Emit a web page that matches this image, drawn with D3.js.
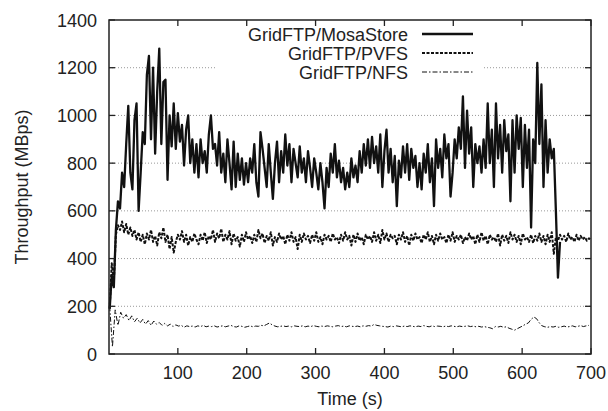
<!DOCTYPE html>
<html>
<head>
<meta charset="utf-8">
<script src="https://cdn.jsdelivr.net/npm/d3@7/dist/d3.min.js"></script>
<style>
    html, body { margin: 0; padding: 0; background: #fff; }
    svg { display: block; font-family: "Liberation Sans", Arial, sans-serif; }
</style>
</head>
<body>
<div id="chart"></div>
<script>
// values, one sample every `step` seconds from `start`
const mosaStart = 1, mosaStep = 3;
const mosaValues = [
    190, 330, 280, 520, 640, 610, 760, 700, 880, 1040,
    760, 690, 980, 1050, 600, 760, 930, 880, 1170, 1250,
    900, 1200, 840, 1100, 1280, 880, 1140, 1150, 730, 1000,
    870, 1050, 860, 1010, 890, 960, 790, 940, 1000, 800,
    900, 760, 880, 740, 900, 800, 850, 760, 920, 1000,
    860, 880, 790, 930, 760, 840, 720, 900, 800, 690,
    890, 700, 840, 730, 820, 710, 800, 720, 820, 760,
    880, 720, 660, 930, 860, 780, 700, 880, 760, 650,
    800, 890, 720, 850, 760, 920, 790, 880, 720, 860,
    800, 740, 870, 760, 820, 720, 850, 780, 700, 820,
    760, 690, 800, 720, 610, 780, 700, 840, 760, 880,
    740, 810, 720, 780, 690, 760, 700, 820, 740, 790,
    720, 850, 760, 880, 790, 900, 780, 910, 800, 870,
    760, 920, 700, 850, 940, 760, 860, 720, 830, 620,
    810, 740, 870, 760, 880, 730, 860, 780, 830, 700,
    800, 690, 840, 760, 880, 720, 820, 620, 900, 780,
    860, 740, 920, 820, 880, 660, 760, 900, 820, 950,
    860, 1080, 780, 1020, 840, 950, 700, 880, 800, 870,
    760, 900, 780, 1050, 800, 940, 700, 1050, 820, 960,
    760, 980, 850, 920, 640, 980, 760, 1000, 860, 990,
    700, 960, 780, 940, 530, 900, 800, 1220, 880, 1130,
    700, 980, 760, 900, 820, 860, 600, 320, 470
];

const pvfsStart = 1, pvfsStep = 3;
const pvfsValues = [
    190, 380, 300, 500, 540, 520, 555, 510, 545, 500,
    530, 495, 520, 480, 510, 470, 500, 460, 505, 480,
    520, 470, 495, 455, 510, 485, 530, 470, 500, 440,
    490, 425, 470, 500, 480, 515, 470, 500, 455, 490,
    470, 505, 480, 460, 500, 475, 510, 465, 495, 480,
    520, 470, 505, 485, 525, 470, 500, 480, 515, 460,
    505, 475, 490, 450, 500, 470, 510, 480, 495, 465,
    500, 470, 520, 485, 505, 465, 495, 475, 510, 455,
    490, 470, 505, 480, 495, 460, 500, 475, 510, 470,
    490, 440, 500, 470, 505, 480, 495, 465, 500, 475,
    510, 470, 490, 460, 500, 480, 495, 470, 505, 480,
    490, 465, 500, 475, 510, 480, 495, 455, 500, 470,
    505, 475, 490, 460, 500, 480, 495, 470, 510, 475,
    500, 465, 520, 480, 505, 470, 500, 485, 495, 460,
    500, 480, 510, 470, 495, 455, 500, 475, 505, 480,
    490, 465, 500, 480, 510, 470, 495, 460, 500, 475,
    505, 480, 490, 465, 500, 475, 510, 470, 495, 480,
    500, 465, 490, 475, 505, 480, 495, 460, 500, 470,
    510, 475, 495, 460, 500, 480, 490, 470, 505, 455,
    500, 475, 495, 465, 510, 480, 500, 470, 495, 460,
    505, 480, 490, 470, 500, 465, 495, 475, 505, 470,
    495, 460, 500, 470, 510, 420, 490, 475, 500, 480,
    495, 470, 505, 480, 490, 470, 500, 475, 495, 480,
    490, 475, 485, 480
];

const nfsStart = 1, nfsStep = 4;
const nfsValues = [
    200, 30, 185, 120, 175, 150, 165, 140, 160, 135,
    150, 130, 145, 125, 140, 120, 138, 125, 132, 120,
    128, 118, 125, 115, 122, 117, 120, 112, 118, 115,
    117, 113, 118, 115, 120, 114, 117, 115, 118, 113,
    116, 118, 114, 117, 120, 115, 113, 118, 116, 112,
    115, 118, 114, 117, 116, 120, 118, 124, 130, 122,
    117, 114, 116, 118, 115, 117, 114, 118, 116, 115,
    118, 114, 117, 115, 119, 116, 114, 117, 115, 118,
    116, 114, 117, 119, 115, 117, 114, 118, 116, 115,
    117, 114, 118, 116, 119, 117, 124, 120, 118, 116,
    115, 113, 117, 115, 118, 116, 114, 117, 115, 118,
    116, 114, 117, 115, 119, 116, 114, 118, 115, 117,
    116, 114, 117, 115, 118, 116, 114, 117, 115, 116,
    118, 115, 117, 114, 116, 113, 115, 112, 110, 106,
    115, 113, 116, 112, 114, 108, 104, 100, 106, 112,
    118, 125, 130, 145, 155, 148, 130, 118, 114, 112,
    115, 113, 116, 112, 114, 117, 113, 115, 118, 114,
    116, 119, 115, 118, 120
];

const seriesNames = ['GridFTP/MosaStore', 'GridFTP/PVFS', 'GridFTP/NFS'];
const xTicks = [100, 200, 300, 400, 500, 600, 700];
const yTicks = [0, 200, 400, 600, 800, 1000, 1200, 1400];
const gridTicks = [200, 400, 600, 800, 1000, 1200];

const toPoints = (start, step, values) =>
    values.map((v, i) => ({ t: start + i * step, v }));

const series = [
    { name: seriesNames[0], data: toPoints(mosaStart, mosaStep, mosaValues), width: 2.3, dash: null },
    { name: seriesNames[1], data: toPoints(pvfsStart, pvfsStep, pvfsValues), width: 2, dash: '3,1.5' },
    { name: seriesNames[2], data: toPoints(nfsStart, nfsStep, nfsValues), width: 1, dash: '5,2,1.5,2' },
];

const W = 608, H = 411;
const margin = { top: 20, right: 17, bottom: 57, left: 109 };
const innerW = W - margin.left - margin.right;
const innerH = H - margin.top - margin.bottom;

const x = d3.scaleLinear().domain([0, 700]).range([0, innerW]);
const y = d3.scaleLinear().domain([0, 1400]).range([innerH, 0]);

const svg = d3.select('#chart')
    .append('svg')
    .attr('width', W)
    .attr('height', H)
    .attr('viewBox', [0, 0, W, H]);

const g = svg.append('g').attr('transform', `translate(${ margin.left },${ margin.top })`);

// dotted horizontal grid
g.selectAll('.grid')
    .data(gridTicks)
    .enter()
    .append('line')
    .attr('class', 'grid')
    .attr('x1', 0)
    .attr('x2', innerW)
    .attr('y1', (d) => y(d))
    .attr('y2', (d) => y(d))
    .style('stroke', '#999')
    .style('stroke-width', 1)
    .style('stroke-dasharray', '1,2');

// legend box hides the grid behind it
g.append('rect')
    .attr('x', 108)
    .attr('y', 3)
    .attr('width', 266)
    .attr('height', 58)
    .style('fill', '#fff');

const line = d3.line()
    .x((d) => x(d.t))
    .y((d) => y(d.v));

// draw NFS first, MosaStore last (on top)
series.slice().reverse().forEach((s) => {
    g.append('path')
        .datum(s.data)
        .attr('d', line)
        .style('fill', 'none')
        .style('stroke', '#111')
        .style('stroke-width', s.width)
        .style('stroke-linejoin', 'round')
        .style('stroke-dasharray', s.dash);
});

// frame
g.append('rect')
    .attr('x', 0)
    .attr('y', 0)
    .attr('width', innerW)
    .attr('height', innerH)
    .style('fill', 'none')
    .style('stroke', '#222')
    .style('stroke-width', 1.5);

// inward ticks, mirrored
const tickLen = 6;
const tickStyle = (sel) => sel.style('stroke', '#222').style('stroke-width', 1.3);
xTicks.forEach((d) => {
    g.append('line').attr('x1', x(d)).attr('x2', x(d)).attr('y1', innerH).attr('y2', innerH - tickLen).call(tickStyle);
    g.append('line').attr('x1', x(d)).attr('x2', x(d)).attr('y1', 0).attr('y2', tickLen).call(tickStyle);
});
yTicks.forEach((d) => {
    g.append('line').attr('x1', 0).attr('x2', tickLen).attr('y1', y(d)).attr('y2', y(d)).call(tickStyle);
    g.append('line').attr('x1', innerW).attr('x2', innerW - tickLen).attr('y1', y(d)).attr('y2', y(d)).call(tickStyle);
});

// tick labels
g.selectAll('.xLabel')
    .data(xTicks)
    .enter()
    .append('text')
    .attr('class', 'xLabel')
    .attr('x', (d) => x(d))
    .attr('y', innerH + 25)
    .style('text-anchor', 'middle')
    .style('font-size', '18px')
    .style('fill', '#222')
    .text((d) => d);

g.selectAll('.yLabel')
    .data(yTicks)
    .enter()
    .append('text')
    .attr('class', 'yLabel')
    .attr('x', -12)
    .attr('y', (d) => y(d) + 6.5)
    .style('text-anchor', 'end')
    .style('font-size', '18px')
    .style('fill', '#222')
    .text((d) => d);

// axis titles
svg.append('text')
    .attr('x', margin.left + x(350))
    .attr('y', 405)
    .style('text-anchor', 'middle')
    .style('font-size', '18px')
    .style('fill', '#222')
    .text('Time (s)');

svg.append('text')
    .attr('transform', 'translate(28,187) rotate(-90)')
    .style('text-anchor', 'middle')
    .style('font-size', '18px')
    .style('fill', '#222')
    .text('Throughput (MBps)');

// legend
const legend = g.selectAll('.legend')
    .data(series)
    .enter()
    .append('g')
    .attr('class', 'legend')
    .attr('transform', (d, i) => `translate(0, ${ 14 + i * 19 })`);

legend.append('text')
    .attr('x', 299)
    .attr('y', 6.5)
    .style('text-anchor', 'end')
    .style('font-size', '18px')
    .style('fill', '#222')
    .text((d) => d.name);

legend.append('line')
    .attr('x1', 313)
    .attr('x2', 364)
    .attr('y1', 0)
    .attr('y2', 0)
    .style('stroke', '#111')
    .style('stroke-width', (d) => d.width)
    .style('stroke-dasharray', (d) => d.dash);
</script>
</body>
</html>
